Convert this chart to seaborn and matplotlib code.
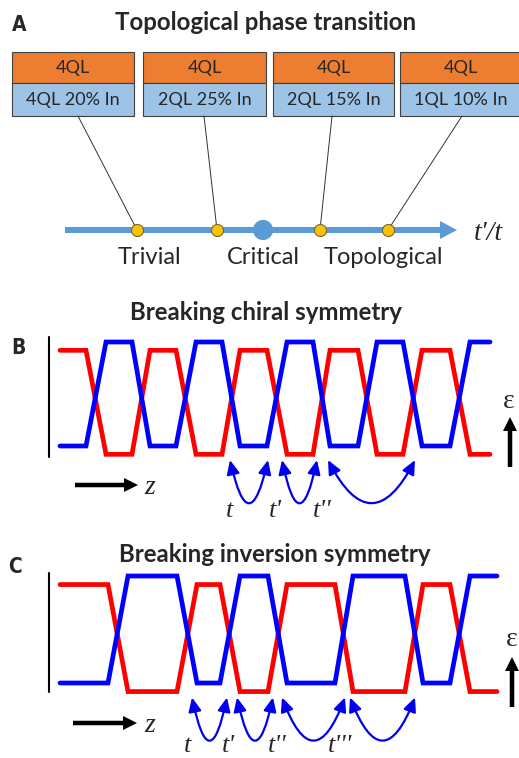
import numpy as np
import pandas as pd
import seaborn as sns
import matplotlib.pyplot as plt
from matplotlib.patches import Rectangle, FancyArrowPatch, ArrowStyle

# ---- данные ----
# панель A: образцы (верхний / нижний слой) и фазовая ось
layer_top = ["4QL", "4QL", "4QL", "4QL"]
layer_bottom = ["4QL 20% In", "2QL 25% In", "2QL 15% In", "1QL 10% In"]
sample_pos = [137, 217, 320, 388]        # положение образцов на оси t'/t
critical_pos = 263
phase_names = ["Trivial", "Critical", "Topological"]
phase_name_pos = [149, 263, 383]

# панель B: узлы ломаной и уровни (красная зона; синяя = зеркальная)
b_knots = [60, 86, 106, 132, 150, 176, 196, 222, 240, 267,
           287, 313, 330, 358, 377, 403, 422, 450, 470, 490]
b_red = [1, 1, -1, -1, 1, 1, -1, -1, 1, 1,
         -1, -1, 1, 1, -1, -1, 1, 1, -1, -1]
b_hops = [(230, 268), (282, 317), (328, 415)]
b_hop_labels = ["t", "t'", "t''"]
b_label_x = [230, 275, 322]

# панель C
c_knots = [60, 108, 128, 177, 197, 220, 240, 268,
           287, 335, 353, 405, 423, 450, 470, 497]
c_red = [1, 1, -1, -1, 1, 1, -1, -1,
         1, 1, -1, -1, 1, 1, -1, -1]
c_hops = [(192, 227), (237, 273), (282, 345), (350, 415)]
c_hop_labels = ["t", "t'", "t''", "t'''"]
c_label_x = [188, 228, 277, 340]

red_offset = -0.16

W, H = 519, 758
ORANGE = "#ED7D31"
LIGHTBLUE = "#9DC3E6"
AXBLUE = "#5B9BD5"
YELLOW = "#FFC000"

sns.set_theme(style="white")
plt.rcParams['font.family'] = ['Lato', 'DejaVu Sans']

fig = plt.figure(figsize=(W / 100, H / 100), dpi=100)

# накладная ось в пикселях
ov = fig.add_axes([0, 0, 1, 1])
ov.set_xlim(0, W)
ov.set_ylim(H, 0)
ov.axis("off")

serif = dict(family="Liberation Serif", style="italic")
letter = dict(family="DejaVu Sans", weight="black", fontstretch="condensed", fontsize=15)

# ---- A ----
ov.text(19, 25, "A", ha="center", va="center", **letter)
ov.text(266, 30, "Topological phase transition", ha="center", va="baseline",
        fontsize=17.3, weight="bold")

box_left = [12, 143, 273, 400]
box_w = [122, 123, 121, 122]
anchor_x = [78, 204, 332, 462]
for i in range(4):
    ov.add_patch(Rectangle((box_left[i], 52), box_w[i], 31, facecolor=ORANGE,
                           edgecolor="#404040", lw=0.8))
    ov.add_patch(Rectangle((box_left[i], 83), box_w[i], 33, facecolor=LIGHTBLUE,
                           edgecolor="#404040", lw=0.8))
    cx = box_left[i] + box_w[i] / 2
    ov.text(cx, 68, layer_top[i], ha="center", va="center", fontsize=13)
    ov.text(cx, 100, layer_bottom[i], ha="center", va="center", fontsize=13)
    ov.plot([anchor_x[i], sample_pos[i]], [116, 230], color="#333333", lw=0.7)

ov.arrow(65, 230, 392, 0, width=6, head_width=18, head_length=17,
         length_includes_head=True, color=AXBLUE, lw=0)
sns.scatterplot(x=[critical_pos], y=[230], s=210, color=AXBLUE, edgecolor="none",
                ax=ov, zorder=5)
sns.scatterplot(x=sample_pos, y=[230] * len(sample_pos), s=75, color=YELLOW,
                edgecolor="#6b6b3a", linewidth=0.8, ax=ov, zorder=6)
for name, x in zip(phase_names, phase_name_pos):
    ov.text(x, 258, name, ha="center", va="center", fontsize=17)
ov.text(488, 234, "t'/t", ha="center", va="center", fontsize=20, **serif)


# ---- B, C: волноводы ----
def wave_panel(center, scale, knots, red, hops, labels, label_x, label_y):
    top, bottom = center - 110, center + 130
    ax = fig.add_axes([0, 1 - bottom / H, 1, (bottom - top) / H])
    ax.set_xlim(0, W)
    ax.set_ylim(-130 / scale, 110 / scale)
    ax.axis("off")
    df = pd.DataFrame({"z": knots,
                       "red": np.array(red) + red_offset,
                       "blue": -np.array(red, dtype=float)})
    sns.lineplot(data=df, x="z", y="red", sort=False, color="#FF0000", lw=3.4,
                 ax=ax, solid_joinstyle="miter")
    sns.lineplot(data=df, x="z", y="blue", sort=False, color="#0000FF", lw=3.4,
                 ax=ax, solid_joinstyle="miter")
    tip = -1.27
    for (x1, x2) in hops:
        rad = 2 * 42 / (x2 - x1)
        ax.add_patch(FancyArrowPatch((x1, tip), (x2, tip),
                                     connectionstyle=f"arc3,rad={rad}",
                                     arrowstyle=ArrowStyle("<|-|>", head_length=0.7, head_width=0.32),
                                     mutation_scale=12, color="#0000EE", lw=1.6,
                                     shrinkA=0, shrinkB=0))
    for lab, x in zip(labels, label_x):
        ax.text(x, label_y, lab, ha="center", va="center", fontsize=19,
                clip_on=False, **serif)
    return ax


axb = wave_panel(394, 52, b_knots, b_red, b_hops, b_hop_labels, b_label_x, -2.25)
axc = wave_panel(629.5, 53.5, c_knots, c_red, c_hops, c_hop_labels, c_label_x, -2.18)

# B оформление
ov.text(18, 348, "B", ha="center", va="center", **letter)
ov.text(266, 320, "Breaking chiral symmetry", ha="center", va="baseline",
        fontsize=17.3, weight="bold")
ov.plot([49, 49], [337, 457], color="black", lw=1.5)
ov.arrow(75, 485, 63, 0, width=4.5, head_width=14, head_length=14,
         length_includes_head=True, color="black", lw=0)
ov.text(150, 487, "z", ha="center", va="center", fontsize=20, **serif)
ov.arrow(510, 467, 0, -50, width=4.5, head_width=14, head_length=14,
         length_includes_head=True, color="black", lw=0)
ov.text(509, 402, "ε", ha="center", va="center", fontsize=20,
        family="Liberation Serif")

# C оформление
ov.text(15, 567, "C", ha="center", va="center", **letter)
ov.text(275, 562, "Breaking inversion symmetry", ha="center", va="baseline",
        fontsize=17.3, weight="bold")
ov.plot([49, 49], [573, 692], color="black", lw=1.5)
ov.arrow(73, 723, 64, 0, width=4.5, head_width=14, head_length=14,
         length_includes_head=True, color="black", lw=0)
ov.text(150, 725, "z", ha="center", va="center", fontsize=20, **serif)
ov.arrow(512, 707, 0, -50, width=4.5, head_width=14, head_length=14,
         length_includes_head=True, color="black", lw=0)
ov.text(512, 640, "ε", ha="center", va="center", fontsize=20,
        family="Liberation Serif")

fig.savefig("out.png", dpi=100)
